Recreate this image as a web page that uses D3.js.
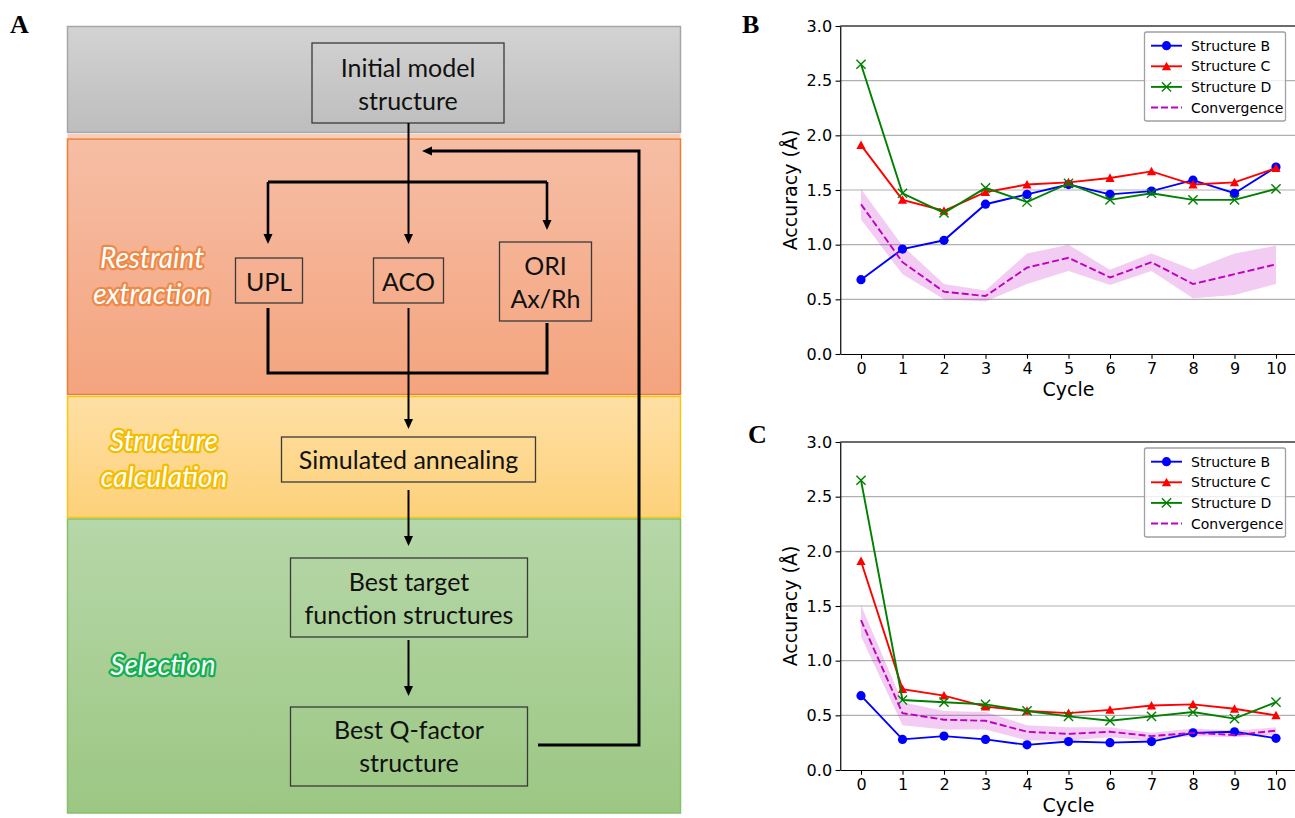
<!DOCTYPE html>
<html><head><meta charset="utf-8">
<script src="https://cdn.jsdelivr.net/npm/d3@7"></script>
<style>body{margin:0;background:#fff} svg{display:block}</style>
</head><body>
<svg id="fig" width="1295" height="818"></svg>
<script>
// ---------------- DATA ----------------
const cycles = [0,1,2,3,4,5,6,7,8,9,10];
const yTicks = [0,0.5,1.0,1.5,2.0,2.5,3.0];
const seriesNames = ["Structure B","Structure C","Structure D","Convergence"];

// Panel B
const structB_B = [0.68,0.96,1.04,1.37,1.46,1.55,1.46,1.49,1.59,1.47,1.71];
const structC_B = [1.91,1.41,1.31,1.48,1.55,1.57,1.61,1.67,1.55,1.57,1.70];
const structD_B = [2.65,1.47,1.29,1.52,1.39,1.56,1.41,1.47,1.41,1.41,1.51];
const conv_B    = [1.37,0.84,0.57,0.53,0.79,0.88,0.70,0.84,0.64,0.73,0.82];
const convLo_B  = [1.23,0.73,0.50,0.48,0.64,0.76,0.63,0.76,0.51,0.54,0.64];
const convHi_B  = [1.51,0.99,0.64,0.58,0.92,1.00,0.77,0.92,0.77,0.92,0.99];

// Panel C
const structB_C = [0.68,0.28,0.31,0.28,0.23,0.26,0.25,0.26,0.34,0.35,0.29];
const structC_C = [1.91,0.74,0.68,0.58,0.54,0.52,0.55,0.59,0.60,0.56,0.50];
const structD_C = [2.65,0.64,0.62,0.60,0.54,0.49,0.45,0.49,0.53,0.47,0.62];
const conv_C    = [1.37,0.52,0.46,0.45,0.35,0.33,0.35,0.31,0.34,0.32,0.36];
const convLo_C  = [1.22,0.41,0.37,0.37,0.27,0.27,0.30,0.27,0.31,0.30,0.32];
const convHi_C  = [1.51,0.62,0.54,0.53,0.41,0.39,0.39,0.34,0.38,0.36,0.39];

// Flow diagram texts
const stageLabels = [["Restraint","extraction"],["Structure","calculation"],["Selection"]];
const boxTexts = [["Initial model","structure"],["UPL"],["ACO"],["ORI","Ax/Rh"],["Simulated annealing"],["Best target","function structures"],["Best Q-factor","structure"]];

// ---------------- FIGURE ----------------
const svg = d3.select("#fig");
const defs = svg.append("defs");
function grad(id, c1, c2){
  const g = defs.append("linearGradient").attr("id",id).attr("x1",0).attr("y1",0).attr("x2",0).attr("y2",1);
  g.append("stop").attr("offset","0%").attr("stop-color",c1);
  g.append("stop").attr("offset","100%").attr("stop-color",c2);
}
grad("gGray","#d3d3d3","#bdbdbd");
grad("gOrange","#f6bea5","#f4a47e");
grad("gYellow","#fedfa4","#fdd17a");
grad("gGreen","#b6d7a8","#9cc783");

// Panel letters
const serif = "'Liberation Serif','Times New Roman',serif";
[["A",10,33],["B",742,33],["C",748,443]].forEach(([t,x,y])=>{
  svg.append("text").attr("x",x).attr("y",y).text(t)
    .attr("font-family",serif).attr("font-weight","bold").attr("font-size",26).attr("fill","#000");
});

// ---- Panel A bands ----
const A = svg.append("g");
const bx = 67.5, bw = 613;
A.append("rect").attr("x",bx).attr("y",26.5).attr("width",bw).attr("height",106).attr("fill","url(#gGray)").attr("stroke","#a6a6a6").attr("stroke-width",1.5);
A.append("rect").attr("x",bx).attr("y",134).attr("width",bw).attr("height",4).attr("fill","#f8cdb9");
A.append("rect").attr("x",bx).attr("y",139).attr("width",bw).attr("height",255.5).attr("fill","url(#gOrange)").attr("stroke","#ed7d31").attr("stroke-width",1.5);
A.append("rect").attr("x",bx).attr("y",396.5).attr("width",bw).attr("height",121).attr("fill","url(#gYellow)").attr("stroke","#f5c518").attr("stroke-width",1.5);
A.append("rect").attr("x",bx).attr("y",519).attr("width",bw).attr("height",294).attr("fill","url(#gGreen)").attr("stroke","#86c06a").attr("stroke-width",1.5);

// stage labels
const lato = "Lato,'Open Sans',sans-serif";
const stageStyle = [
  {x:152, ys:[257,293], stroke:"#ee8a48"},
  {x:164, ys:[440,476], stroke:"#f5bd00"},
  {x:163, ys:[664], stroke:"#12b050"}
];
stageLabels.forEach((lines,i)=>{
  const s = stageStyle[i];
  lines.forEach((t,j)=>{
    A.append("text").attr("x",s.x).attr("y",s.ys[j]).text(t)
      .attr("text-anchor","middle").attr("dominant-baseline","central")
      .attr("font-family",lato).attr("font-style","italic").attr("font-size",28)
      .attr("fill","#fff").attr("stroke",s.stroke).attr("stroke-width",4.5)
      .attr("stroke-linejoin","round").attr("paint-order","stroke");
  });
});

// boxes
const boxGeo = [
  {x:312,y:43,w:192,h:80, ys:[67,100]},
  {x:235.5,y:258,w:67,h:45, ys:[281]},
  {x:373.5,y:258,w:70,h:45, ys:[281]},
  {x:499.5,y:242,w:92,h:79, ys:[265,298]},
  {x:281.5,y:437,w:254,h:45, ys:[459]},
  {x:290.5,y:558,w:237,h:79, ys:[581,614]},
  {x:290.5,y:707,w:237,h:79, ys:[729,762]}
];
boxTexts.forEach((lines,i)=>{
  const b = boxGeo[i];
  A.append("rect").attr("x",b.x).attr("y",b.y).attr("width",b.w).attr("height",b.h)
    .attr("fill","none").attr("stroke","#3a3a3a").attr("stroke-width",1.3);
  lines.forEach((t,j)=>{
    A.append("text").attr("x",b.x+b.w/2).attr("y",b.ys[j]).text(t)
      .attr("text-anchor","middle").attr("dominant-baseline","central")
      .attr("font-family",lato).attr("font-size",25).attr("fill","#111");
  });
});

// connectors
function path(pts, w){
  A.append("path").attr("d",d3.line()(pts)).attr("fill","none").attr("stroke","#000")
    .attr("stroke-width",w).attr("stroke-linejoin","miter");
}
function head(x,y,dir,len=10,half=4.5){
  let p;
  if(dir==="down") p=[[x,y],[x-half,y-len],[x+half,y-len]];
  if(dir==="left") p=[[x,y],[x+len,y-half],[x+len,y+half]];
  A.append("path").attr("d",d3.line()(p)+"Z").attr("fill","#000");
}
const cx = 408.5;
path([[cx,123],[cx,236]],2); head(cx,244,"down");
path([[268,182],[547,182]],3);
path([[268,182],[268,236]],2.6); head(268,244,"down");
path([[547,182],[547,222]],2.6); head(547,230,"down");
path([[268,308],[268,373],[547,373],[547,323]],3);
path([[cx,308],[cx,421]],2); head(cx,429,"down");
path([[cx,490],[cx,538]],2); head(cx,546,"down");
path([[cx,640],[cx,688]],2); head(cx,696,"down");
path([[538,745],[639,745],[639,151],[430,151]],3); head(422,151,"left");

// ---------------- CHARTS ----------------
const dv = "'DejaVu Sans',sans-serif";
const x = d3.scaleLinear().domain([-0.5,10.5]).range([840.25,1296.75]);
const colors = {B:"#0000ff", C:"#ff0000", D:"#008000", M:"#bf00bf"};

function markerDraw(g, type, px, py){
  const s = 4.6;
  if(type==="circle") g.append("circle").attr("cx",px).attr("cy",py).attr("r",s).attr("fill",colors.B);
  if(type==="tri") g.append("path").attr("d",`M${px},${py-s}L${px-s},${py+s*0.85}L${px+s},${py+s*0.85}Z`).attr("fill",colors.C);
  if(type==="x") g.append("path").attr("d",`M${px-s},${py-s}L${px+s},${py+s}M${px-s},${py+s}L${px+s},${py-s}`).attr("stroke",colors.D).attr("stroke-width",1.4);
}

function panel(top, bottom, sB, sC, sD, conv, lo, hi){
  const y = d3.scaleLinear().domain([0,3]).range([bottom,top]);
  const g = svg.append("g");
  g.selectAll(".grid").data(yTicks.slice(1)).enter().append("line")
    .attr("x1",x.range()[0]).attr("x2",x.range()[1]).attr("y1",d=>y(d)).attr("y2",d=>y(d))
    .attr("stroke","#b0b0b0").attr("stroke-width",1.2);
  const area = d3.area().x((d,i)=>x(cycles[i])).y0((d,i)=>y(lo[i])).y1((d,i)=>y(hi[i]));
  g.append("path").attr("d",area(cycles)).attr("fill",colors.M).attr("fill-opacity",0.2);
  const line = arr => d3.line().x((d,i)=>x(cycles[i])).y(d=>y(d))(arr);
  [[sB,colors.B,"circle"],[sC,colors.C,"tri"],[sD,colors.D,"x"]].forEach(([arr,col,m])=>{
    g.append("path").attr("d",line(arr)).attr("fill","none").attr("stroke",col).attr("stroke-width",1.9);
    arr.forEach((v,i)=>markerDraw(g,m,x(cycles[i]),y(v)));
  });
  g.append("path").attr("d",line(conv)).attr("fill","none").attr("stroke",colors.M)
    .attr("stroke-width",1.9).attr("stroke-dasharray","7,3");
  const ax = g.append("g").attr("transform",`translate(0,${bottom})`)
    .call(d3.axisBottom(x).tickValues(cycles).tickFormat(d3.format("d")).tickSize(4.7).tickPadding(3.5).tickSizeOuter(0));
  const ay = g.append("g").attr("transform",`translate(${x.range()[0]},0)`)
    .call(d3.axisLeft(y).tickValues(yTicks).tickFormat(d3.format(".1f")).tickSize(4.7).tickPadding(3.5).tickSizeOuter(0));
  [ax,ay].forEach(a=>{
    a.selectAll("text").attr("font-family",dv).attr("font-size",16).attr("fill","#000");
    a.selectAll("line").attr("stroke","#000").attr("stroke-width",1.1);
    a.select(".domain").attr("stroke","#000").attr("stroke-width",1.2);
  });
  g.append("line").attr("x1",x.range()[0]).attr("x2",x.range()[1]).attr("y1",top).attr("y2",top)
    .attr("stroke","#000").attr("stroke-width",1.2);
  g.append("text").attr("x",x(5)).attr("y",bottom+42).attr("text-anchor","middle")
    .attr("font-family",dv).attr("font-size",19).text("Cycle");
  g.append("text").attr("transform",`translate(${797},${(top+bottom)/2}) rotate(-90)`)
    .attr("text-anchor","middle").attr("font-family",dv).attr("font-size",19).text("Accuracy (Å)");
  const lg = g.append("g");
  lg.append("rect").attr("x",1144.5).attr("y",top+6).attr("width",141).attr("height",89)
    .attr("fill","#fff").attr("fill-opacity",0.8).attr("stroke","#a0a0a0").attr("stroke-width",1.3).attr("rx",2);
  const hx0 = 1151, hx1 = 1182, hm = 1166.5;
  seriesNames.forEach((nm,i)=>{
    const ry = top + 19.7 + i*20.6;
    const col = [colors.B,colors.C,colors.D,colors.M][i];
    const ln = lg.append("line").attr("x1",hx0).attr("x2",hx1).attr("y1",ry).attr("y2",ry)
      .attr("stroke",col).attr("stroke-width",1.9);
    if(i===3) ln.attr("stroke-dasharray","7,3");
    if(i<3) markerDraw(lg,["circle","tri","x"][i],hm,ry);
    lg.append("text").attr("x",1191).attr("y",ry).attr("dominant-baseline","central")
      .attr("font-family",dv).attr("font-size",14).text(nm);
  });
}
panel(26, 354, structB_B, structC_B, structD_B, conv_B, convLo_B, convHi_B);
panel(442, 770, structB_C, structC_C, structD_C, conv_C, convLo_C, convHi_C);
</script></body></html>
